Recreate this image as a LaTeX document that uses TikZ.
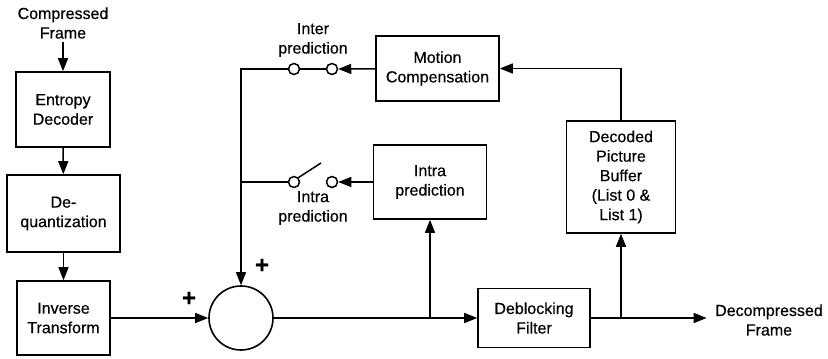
\documentclass[tikz,border=0pt]{standalone}
\usepackage{fontspec}
\setmainfont{Liberation Sans}[FakeBold=0.4]
\usetikzlibrary{arrows.meta, positioning, calc}

\tikzset{
  block/.style={draw, line width=1.6pt, align=center, inner sep=2pt},
  tap/.style={circle, draw, line width=1.5pt, fill=white, minimum size=11pt, inner sep=0pt},
  flow/.style={line width=1.5pt, -{Triangle[length=13pt,width=10pt]}},
  wire/.style={line width=1.5pt},
  sign/.style={font=\fontsize{24}{24}\selectfont\bfseries},
}

\begin{document}
\begin{tikzpicture}[x=1pt, y=-1pt, font=\fontsize{16}{19.5}\selectfont]
  \useasboundingbox (0,0) rectangle (828,359);

  % decoding chain on the left
  \node[align=center] (in) at (63,23) {Compressed\\Frame};
  \node[block, minimum width=94pt, minimum height=75pt] (ent) at (63,109.5) {Entropy\\Decoder};
  \node[block, minimum width=113pt, minimum height=77pt] (deq) at (63.5,213.5) {De-\\quantization};
  \node[block, minimum width=93pt, minimum height=74pt] (inv) at (63.5,318) {Inverse\\Transform};

  % adder and loop
  \node[circle, draw, line width=1.6pt, minimum size=64pt, inner sep=0pt] (sum) at (241,318) {};
  \node[block, minimum width=123pt, minimum height=65pt] (mc) at (437.5,68.5) {Motion\\Compensation};
  \node[block, minimum width=113pt, minimum height=74pt] (intra) at (430,182) {Intra\\prediction};
  \node[block, minimum width=112pt, minimum height=59pt] (dbf) at (534,318) {Deblocking\\Filter};
  \node[block, minimum width=109pt, minimum height=112pt] (dpb) at (621,177) {Decoded\\Picture\\Buffer\\(List 0 \&\\List 1)};
  \node[align=center] (out) at (769,320) {Decompressed\\Frame};

  % switches
  \node[tap] (s1a) at (294,69) {};
  \node[tap] (s1b) at (332,69) {};
  \node[tap] (s2a) at (294,182) {};
  \node[tap] (s2b) at (332,182) {};
  \coordinate (arm) at (321,163);
  \node[align=center] (l1) at (313,40) {Inter\\prediction};
  \node[align=center] (l2) at (313,208) {Intra\\prediction};

  \node[sign] (p1) at (189,299) {+};
  \node[sign] (p2) at (262,266) {+};

  \draw[flow] (in) -- (ent);
  \draw[flow] (ent) -- (deq);
  \draw[flow] (deq) -- (inv);
  \draw[flow] (inv) -- (sum);
  \draw[flow] (sum) -- (dbf);
  \draw[flow] (intra.south |- sum.east) -- (intra.south);
  \draw[flow, shorten >=5pt] (dbf) -- (out.west |- dbf.east);
  \draw[flow] (dpb.south |- dbf.east) -- (dpb.south);
  \draw[flow] (dpb.north) |- (mc.east);
  \draw[flow] (mc) -- (s1b);
  \draw[flow] (intra) -- (s2b);
  \draw[wire] (s1a) -- (s1b);
  \draw[flow] (s1a) -| (sum.north);
  \draw[wire] (s2a) -- (s2a -| sum.north);
  \draw[wire] (s2a.45) -- (arm);
\end{tikzpicture}
\end{document}
